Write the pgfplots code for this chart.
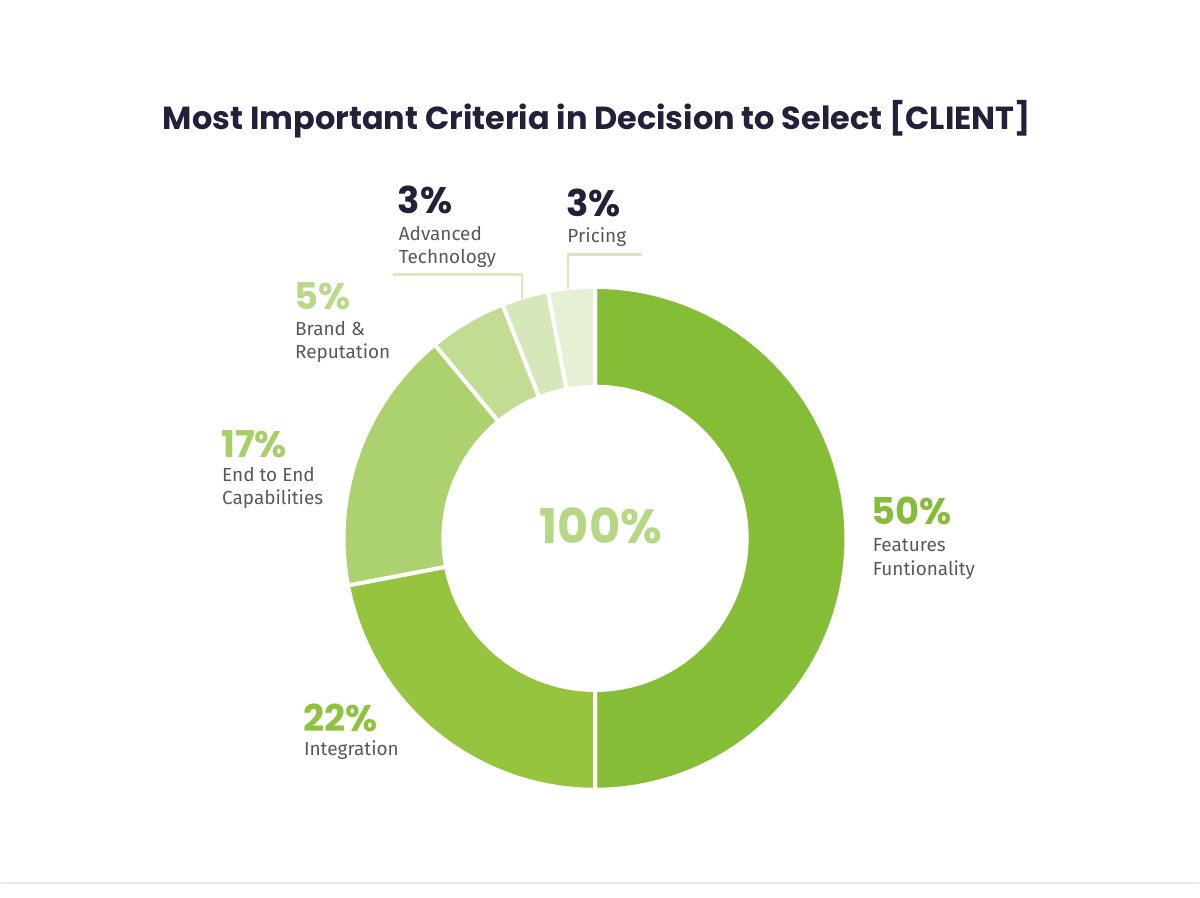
\documentclass[border=0pt]{standalone}
\usepackage{pgfplots}
\pgfplotsset{compat=1.18}
\usepackage{fontspec}
\setmainfont{Fira Sans}
\newfontfamily\pop{Poppins}
\definecolor{cFeat}{HTML}{86BD37}
\definecolor{cInt}{HTML}{96C43E}
\definecolor{cEnd}{HTML}{ACD16F}
\definecolor{cBrand}{HTML}{C2DD93}
\definecolor{cAdv}{HTML}{D6E8B9}
\definecolor{cPrice}{HTML}{E5F0D5}
\definecolor{navy}{HTML}{22213A}
\definecolor{lbl}{HTML}{58585A}
\definecolor{lead}{HTML}{D7E8BC}
\definecolor{t50}{HTML}{86BC3A}
\definecolor{t22}{HTML}{8FC33F}
\definecolor{t17}{HTML}{A6CF67}
\definecolor{t5}{HTML}{B9D98A}
\definecolor{t100}{HTML}{B6D784}
% slice: cumulative start %, cumulative end %, colour
\newcommand{\slice}[3]{%
  \addplot[fill=#3, draw=white, line width=2pt, line join=round, domain={90-3.6*#2}:{90-3.6*#1}, samples=80]
    ({595+252*cos(x)},{359.5+252*sin(x)}) -- (axis cs:595,359.5) -- cycle;
}
\begin{document}
\begin{tikzpicture}
\begin{axis}[scale only axis, width=600pt, height=449.5pt,
  xmin=0, xmax=1200, ymin=0, ymax=899, hide axis, clip=false,
  at={(0,0)}, anchor=south west]
\path (axis cs:0,0) rectangle (axis cs:1200,899);
% values: 50, 22, 17, 5, 3, 3 (cumulative 0,50,72,89,94,97,100)
\slice{0}{50}{cFeat}
\slice{50}{72}{cInt}
\slice{72}{89}{cEnd}
\slice{89}{94}{cBrand}
\slice{94}{97}{cAdv}
\slice{97}{100}{cPrice}
\addplot[fill=white, draw=none, domain=0:360, samples=120] ({595+154*cos(x)},{359.5+154*sin(x)}) -- cycle;
% leader lines
\draw[lead, line width=1.3pt] (axis cs:393,624) -- (axis cs:522,624) -- (axis cs:522,599);
\draw[lead, line width=1.3pt] (axis cs:642,644) -- (axis cs:568,644) -- (axis cs:568,609);
% bottom rule
\draw[black!9, line width=1.3pt] (axis cs:0,14) -- (axis cs:1200,14);
% title
\node[anchor=base, text=navy, font=\pop\bfseries\fontsize{16}{19}\selectfont] at (axis cs:597,769) {Most Important Criteria in Decision to Select [CLIENT]};
% centre
\node[anchor=base, text=t100, font=\pop\bfseries\fontsize{24}{28}\selectfont] at (axis cs:601,354) {100\%};
% labels
\newcommand{\pct}[4]{\node[anchor=base west, inner sep=0pt, text depth=0pt, text=#3, font=\pop\bfseries\fontsize{18.5}{22}\selectfont] at (axis cs:#1,#2) {#4};}
\newcommand{\lab}[3]{\node[anchor=base west, inner sep=0pt, text=lbl, font=\fontsize{9.5}{12}\selectfont] at (axis cs:#1,#2) {#3};}
\pct{397}{685}{navy}{3\%}
\lab{398}{658}{Advanced}
\lab{398}{635}{Technology}
\pct{566}{682}{navy}{3\%}
\lab{567}{656}{Pricing}
\pct{293}{589}{t5}{5\%}
\lab{294}{563}{Brand \&}
\lab{294}{540}{Reputation}
\pct{220}{441}{t17}{17\%}
\lab{221}{416}{End to End}
\lab{221}{393}{Capabilities}
\pct{872}{373}{t50}{50\%}
\lab{873}{346}{Features}
\lab{873}{322}{Funtionality}
\pct{302}{166}{t22}{22\%}
\lab{303}{142}{Integration}
\end{axis}
\end{tikzpicture}
\end{document}
